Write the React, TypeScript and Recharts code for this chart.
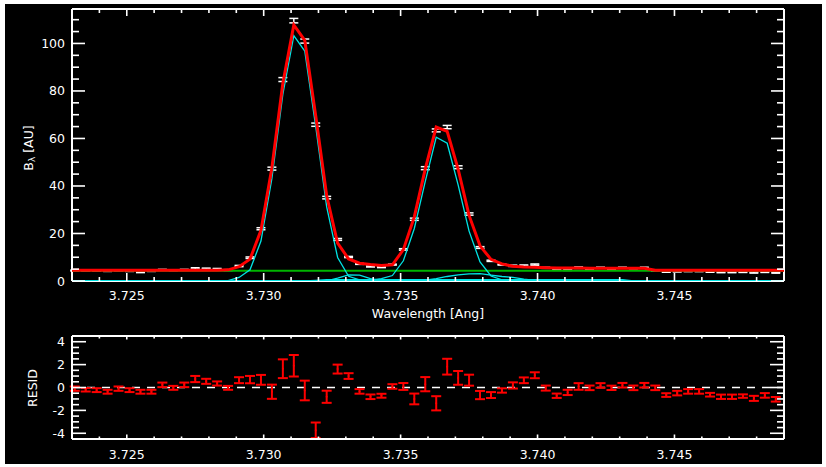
import React from 'react';
import { ComposedChart, Line, Scatter, ErrorBar, XAxis, YAxis, ReferenceLine } from 'recharts';

const FONT = '"DejaVu Sans", "Liberation Sans", sans-serif';
const FS = 12.5;
const WHITE = '#ffffff';
const RED = '#ff0000';
const CYAN = '#00e4e4';
const GREEN = '#00b400';

// ---------- axes ----------
const X_DOMAIN: [number, number] = [3.723, 3.749];
const xTickValues = [3.723, 3.724, 3.725, 3.726, 3.727, 3.728, 3.729, 3.73, 3.731, 3.732, 3.733, 3.734, 3.735, 3.736, 3.737, 3.738, 3.739, 3.74, 3.741, 3.742, 3.743, 3.744, 3.745, 3.746, 3.747, 3.748, 3.749];
const xMajorTicks = [3.725, 3.73, 3.735, 3.74, 3.745];
const FLUX_DOMAIN: [number, number] = [0, 114.5];
const fluxTickValues = [0, 5, 10, 15, 20, 25, 30, 35, 40, 45, 50, 55, 60, 65, 70, 75, 80, 85, 90, 95, 100, 105, 110];
const fluxMajorTicks = [0, 20, 40, 60, 80, 100];
const RESID_DOMAIN: [number, number] = [-4.5, 4.5];
const residTickValues = [-4.5, -4, -3.5, -3, -2.5, -2, -1.5, -1, -0.5, 0, 0.5, 1, 1.5, 2, 2.5, 3, 3.5, 4, 4.5];
const residMajorTicks = [-4, -2, 0, 2, 4];

// ---------- observed spectrum ----------
const wavelength = [
  3.7231, 3.7235, 3.7239, 3.7243, 3.7247, 3.7251, 3.7255, 3.7259, 3.7263, 3.7267,
  3.7271, 3.7275, 3.7279, 3.7283, 3.7287, 3.7291, 3.7295, 3.7299, 3.7303, 3.7307,
  3.7311, 3.7315, 3.7319, 3.7323, 3.7327, 3.7331, 3.7335, 3.7339, 3.7343, 3.7347,
  3.7351, 3.7355, 3.7359, 3.7363, 3.7367, 3.7371, 3.7375, 3.7379, 3.7383, 3.7387,
  3.7391, 3.7395, 3.7399, 3.7403, 3.7407, 3.7411, 3.7415, 3.7419, 3.7423, 3.7427,
  3.7431, 3.7435, 3.7439, 3.7443, 3.7447, 3.7451, 3.7455, 3.7459, 3.7463, 3.7467,
  3.7471, 3.7475, 3.7479, 3.7483, 3.7487,
];
const flux = [
  4.4, 4.3, 4.3, 4.2, 4.4, 4.2, 3.7, 4.2, 4.7, 4.5,
  4.7, 5.3, 5.2, 5.1, 4.6, 6.3, 9.8, 22.0, 47.3, 84.8,
  109.6, 101.0, 65.8, 35.1, 17.5, 10.1, 7.2, 6.1, 5.8, 6.9,
  13.3, 26.0, 47.5, 63.4, 64.8, 47.9, 28.2, 14.1, 8.5, 6.9,
  6.4, 6.5, 6.9, 5.55, 4.7, 4.7, 5.6, 4.7, 5.6, 4.7,
  5.6, 5.35, 5.6, 4.45, 3.85, 4.0, 4.15, 4.15, 3.85, 3.7,
  3.7, 3.75, 3.55, 3.8, 3.5,
];
const fluxErr = [
  0.19, 0.15, 0.17, 0.17, 0.19, 0.17, 0.17, 0.17, 0.2, 0.17,
  0.2, 0.27, 0.22, 0.18, 0.17, 0.26, 0.32, 0.43, 0.62, 0.82,
  0.94, 0.86, 0.68, 0.53, 0.39, 0.25, 0.2, 0.2, 0.17, 0.2,
  0.3, 0.47, 0.62, 0.62, 0.69, 0.6, 0.48, 0.36, 0.26, 0.19,
  0.27, 0.25, 0.26, 0.22, 0.19, 0.23, 0.29, 0.2, 0.2, 0.19,
  0.2, 0.2, 0.2, 0.2, 0.16, 0.2, 0.2, 0.2, 0.16, 0.19,
  0.19, 0.15, 0.22, 0.2, 0.2,
];
const residual = [
  -0.1, -0.2, -0.23, -0.37, -0.1, -0.23, -0.37, -0.37, 0.23, -0.03,
  0.23, 0.74, 0.54, 0.35, -0.03, 0.64, 0.69, 0.67, -0.37, 1.64,
  1.9, -0.26, -3.74, -0.81, 1.61, 1.0, -0.34, -0.81, -0.72, 0.09,
  0.09, -1.0, 0.29, -1.38, 1.82, 0.84, 0.64, -0.66, -0.66, -0.26,
  0.18, 0.63, 1.07, -0.05, -0.72, -0.43, 0.09, -0.03, 0.18, -0.03,
  0.2, -0.03, 0.2, -0.03, -0.66, -0.49, -0.34, -0.34, -0.63, -0.81,
  -0.81, -0.75, -0.95, -0.69, -1.03,
];

// ---------- model (evaluated on the data grid, plus the plot edges) ----------
const modelEdges = [3.723, 3.749];
const fitTotal = [
  4.5, 4.5, 4.5, 4.5, 4.5, 4.5, 4.5, 4.5, 4.5, 4.5,
  4.5, 4.5, 4.5, 4.5, 4.7, 6.0, 9.2, 21.3, 47.7, 83.2,
  107.8, 101.3, 69.5, 35.9, 15.9, 9.3, 7.5, 6.9, 6.5, 6.8,
  13.2, 27.0, 47.2, 64.8, 63.0, 47.1, 27.6, 14.8, 9.1, 7.2,
  6.2, 5.9, 5.8, 5.6, 5.5, 5.5, 5.5, 5.4, 5.4, 5.4,
  5.4, 5.4, 5.4, 4.5, 4.5, 4.5, 4.5, 4.5, 4.5, 4.5,
  4.5, 4.5, 4.5, 4.5, 4.5,
];
const fitEdgeValues = [4.5, 4.5];
const line1Comp = [
  0, 0, 0, 0, 0, 0, 0, 0, 0, 0,
  0, 0, 0, 0, 0.2, 1.5, 4.7, 16.8, 43.2, 78.7,
  103.3, 96.8, 65.0, 31.2, 9.9, 2.0, 0.5, 0.1, 0, 0,
  0, 0, 0, 0, 0, 0, 0, 0, 0, 0,
  0, 0, 0, 0, 0, 0, 0, 0, 0, 0,
  0, 0, 0, 0, 0, 0, 0, 0, 0, 0,
  0, 0, 0, 0, 0,
];
const line2Comp = [
  0, 0, 0, 0, 0, 0, 0, 0, 0, 0,
  0, 0, 0, 0, 0, 0, 0, 0, 0, 0,
  0, 0, 0, 0, 0, 0, 0.1, 0.4, 1.0, 2.3,
  8.5, 22.1, 41.9, 60.5, 58.0, 40.5, 21.0, 8.0, 2.1, 0.5,
  0.1, 0, 0, 0, 0, 0, 0, 0, 0, 0,
  0, 0, 0, 0, 0, 0, 0, 0, 0, 0,
  0, 0, 0, 0, 0,
];
const wing1Comp = [
  0, 0, 0, 0, 0, 0, 0, 0, 0, 0,
  0, 0, 0, 0, 0, 0, 0, 0, 0, 0,
  0, 0, 0, 0.1, 1.2, 2.6, 2.5, 1.0, 0.1, 0,
  0, 0, 0, 0, 0, 0, 0, 0, 0, 0,
  0, 0, 0, 0, 0, 0, 0, 0, 0, 0,
  0, 0, 0, 0, 0, 0, 0, 0, 0, 0,
  0, 0, 0, 0, 0,
];
const wing2Comp = [
  0, 0, 0, 0, 0, 0, 0, 0, 0, 0,
  0, 0, 0, 0, 0, 0, 0, 0, 0, 0,
  0, 0, 0, 0, 0, 0, 0, 0, 0, 0,
  0, 0.1, 0.4, 1.0, 1.9, 2.6, 3.0, 3.1, 2.5, 1.9,
  1.5, 0.8, 0.3, 0.1, 0, 0, 0, 0, 0, 0,
  0, 0, 0, 0, 0, 0, 0, 0, 0, 0,
  0, 0, 0, 0, 0,
];
const broadComp = [
  0, 0, 0, 0, 0, 0, 0, 0, 0, 0,
  0, 0, 0, 0, 0, 0, 0, 0, 0, 0,
  0, 0, 0.3, 0.6, 0.6, 0.6, 0.6, 0.6, 0.6, 0.6,
  0.6, 0.6, 0.6, 0.6, 0.6, 0.6, 0.6, 0.6, 0.6, 0.6,
  0.6, 0.6, 0.6, 0.6, 0.6, 0.6, 0.6, 0.6, 0.6, 0.6,
  0.6, 0, 0, 0, 0, 0, 0, 0, 0, 0,
  0, 0, 0, 0, 0,
];
const baselineWl = [3.723, 3.749];
const baselineValue = [4.3, 4.3];

// ---------- data tables for the library ----------
const obsData = wavelength.map((wl, i) => ({ wl, flux: flux[i], err: fluxErr[i], resid: residual[i] }));
const modelWl = [modelEdges[0], ...wavelength, modelEdges[1]];
const withEdges = (arr: number[], edge: number[]) => [edge[0], ...arr, edge[1]];
const fitCol = withEdges(fitTotal, fitEdgeValues);
const c1 = withEdges(line1Comp, [0, 0]);
const c2 = withEdges(line2Comp, [0, 0]);
const c3 = withEdges(wing1Comp, [0, 0]);
const c4 = withEdges(wing2Comp, [0, 0]);
const c5 = withEdges(broadComp, [0, 0]);
const modelData = modelWl.map((wl, i) => ({ wl, fit: fitCol[i], c1: c1[i], c2: c2[i], c3: c3[i], c4: c4[i], c5: c5[i] }));
const baselineData = baselineWl.map((wl, i) => ({ wl, base: baselineValue[i] }));

// ---------- tick renderer (ticks point inward on all sides) ----------
type Side = 'left' | 'right' | 'top' | 'bottom';
interface TickOpts {
  side: Side;
  majors: number[];
  majorLen: number;
  minorLen: number;
  labels: boolean;
  gap: number;
  fmt: (v: number) => string;
}
function makeTick(o: TickOpts) {
  return (props: any) => {
    const { x, y, payload } = props;
    const v = Number(payload && payload.value);
    const major = o.majors.some((m) => Math.abs(m - v) < 1e-7);
    const len = major ? o.majorLen : o.minorLen;
    let x2 = x;
    let y2 = y;
    if (o.side === 'bottom') y2 = y - len;
    else if (o.side === 'top') y2 = y + len;
    else if (o.side === 'left') x2 = x + len;
    else x2 = x - len;
    let label: React.ReactNode = null;
    if (o.labels && major) {
      if (o.side === 'bottom') {
        label = (
          <text x={x} y={y + o.gap} textAnchor="middle" dominantBaseline="central" fill={WHITE} fontFamily={FONT} fontSize={FS}>
            {o.fmt(v)}
          </text>
        );
      } else if (o.side === 'left') {
        label = (
          <text x={x - o.gap} y={y} textAnchor="end" dominantBaseline="central" fill={WHITE} fontFamily={FONT} fontSize={FS}>
            {o.fmt(v)}
          </text>
        );
      }
    }
    return (
      <g>
        <line x1={x} y1={y} x2={x2} y2={y2} stroke={WHITE} strokeWidth={1.6} />
        {label}
      </g>
    );
  };
}

const fmtX = (v: number) => v.toFixed(3);
const fmtInt = (v: number) => String(Math.round(v));

const axisLine = { stroke: WHITE, strokeWidth: 2 };

const NoMark = () => <g />;
const ResidDot = (props: any) => <circle cx={props.cx} cy={props.cy} r={1} fill={RED} />;

export default function App() {
  return (
    <div style={{ position: 'absolute', left: 0, top: 0, width: 826, height: 467, background: '#ffffff', overflow: 'hidden' }}>
      <div style={{ position: 'absolute', left: 5, top: 4, width: 817, height: 460, background: '#000000' }} />
      {/* ---------- top panel ---------- */}
      <div style={{ position: 'absolute', left: 0, top: 0 }}>
        <ComposedChart width={826} height={320} margin={{ top: 8, right: 0, bottom: 0, left: 0 }}>
          <XAxis
            dataKey="wl" type="number" domain={X_DOMAIN} allowDataOverflow ticks={xTickValues} interval={0}
            height={39} tickSize={0} tickMargin={0} tickLine={false} axisLine={axisLine}
            tick={makeTick({ side: 'bottom', majors: xMajorTicks, majorLen: 8, minorLen: 4, labels: true, gap: 14, fmt: fmtX })}
          />
          <XAxis
            xAxisId="top" orientation="top" dataKey="wl" type="number" domain={X_DOMAIN} allowDataOverflow ticks={xTickValues} interval={0}
            height={1} tickSize={0} tickMargin={0} tickLine={false} axisLine={axisLine}
            tick={makeTick({ side: 'top', majors: xMajorTicks, majorLen: 7, minorLen: 4, labels: false, gap: 0, fmt: fmtX })}
          />
          <YAxis
            type="number" domain={FLUX_DOMAIN} allowDataOverflow ticks={fluxTickValues} interval={0}
            width={72} tickSize={0} tickMargin={0} tickLine={false} axisLine={axisLine}
            tick={makeTick({ side: 'left', majors: fluxMajorTicks, majorLen: 13, minorLen: 7, labels: true, gap: 7, fmt: fmtInt })}
          />
          <YAxis
            yAxisId="right" orientation="right" type="number" domain={FLUX_DOMAIN} allowDataOverflow ticks={fluxTickValues} interval={0}
            width={42} tickSize={0} tickMargin={0} tickLine={false} axisLine={axisLine}
            tick={makeTick({ side: 'right', majors: fluxMajorTicks, majorLen: 13, minorLen: 7, labels: false, gap: 0, fmt: fmtInt })}
          />
          <Scatter data={obsData} dataKey="flux" shape={NoMark} isAnimationActive={false} zIndex={505}>
            <ErrorBar dataKey="err" direction="y" width={4.5} stroke={WHITE} strokeWidth={1.5} isAnimationActive={false} />
          </Scatter>
          <Line data={baselineData} dataKey="base" type="linear" stroke={GREEN} strokeWidth={2} dot={false} activeDot={false} isAnimationActive={false} zIndex={510} />
          <Line data={modelData} dataKey="c5" type="linear" stroke={CYAN} strokeWidth={1.3} dot={false} activeDot={false} isAnimationActive={false} zIndex={520} />
          <Line data={modelData} dataKey="c3" type="linear" stroke={CYAN} strokeWidth={1.3} dot={false} activeDot={false} isAnimationActive={false} zIndex={520} />
          <Line data={modelData} dataKey="c4" type="linear" stroke={CYAN} strokeWidth={1.3} dot={false} activeDot={false} isAnimationActive={false} zIndex={520} />
          <Line data={modelData} dataKey="c1" type="linear" stroke={CYAN} strokeWidth={1.3} dot={false} activeDot={false} isAnimationActive={false} zIndex={520} />
          <Line data={modelData} dataKey="c2" type="linear" stroke={CYAN} strokeWidth={1.3} dot={false} activeDot={false} isAnimationActive={false} zIndex={520} />
          <Line data={modelData} dataKey="fit" type="linear" stroke={RED} strokeWidth={3} dot={false} activeDot={false} isAnimationActive={false} zIndex={530} />
        </ComposedChart>
      </div>
      {/* ---------- residual panel ---------- */}
      <div style={{ position: 'absolute', left: 0, top: 320 }}>
        <ComposedChart width={826} height={147} margin={{ top: 15, right: 0, bottom: 0, left: 0 }}>
          <XAxis
            dataKey="wl" type="number" domain={X_DOMAIN} allowDataOverflow ticks={xTickValues} interval={0}
            height={28} tickSize={0} tickMargin={0} tickLine={false} axisLine={axisLine}
            tick={makeTick({ side: 'bottom', majors: xMajorTicks, majorLen: 4.5, minorLen: 2.5, labels: true, gap: 15, fmt: fmtX })}
          />
          <XAxis
            xAxisId="top" orientation="top" dataKey="wl" type="number" domain={X_DOMAIN} allowDataOverflow ticks={xTickValues} interval={0}
            height={1} tickSize={0} tickMargin={0} tickLine={false} axisLine={axisLine}
            tick={makeTick({ side: 'top', majors: xMajorTicks, majorLen: 3.5, minorLen: 2.5, labels: false, gap: 0, fmt: fmtX })}
          />
          <YAxis
            type="number" domain={RESID_DOMAIN} allowDataOverflow ticks={residTickValues} interval={0}
            width={72} tickSize={0} tickMargin={0} tickLine={false} axisLine={axisLine}
            tick={makeTick({ side: 'left', majors: residMajorTicks, majorLen: 14, minorLen: 7, labels: true, gap: 7, fmt: fmtInt })}
          />
          <YAxis
            yAxisId="right" orientation="right" type="number" domain={RESID_DOMAIN} allowDataOverflow ticks={residTickValues} interval={0}
            width={42} tickSize={0} tickMargin={0} tickLine={false} axisLine={axisLine}
            tick={makeTick({ side: 'right', majors: residMajorTicks, majorLen: 14, minorLen: 7, labels: false, gap: 0, fmt: fmtInt })}
          />
          <ReferenceLine y={0} stroke={WHITE} strokeWidth={1.5} strokeDasharray="8 7" />
          <Scatter data={obsData} dataKey="resid" shape={ResidDot} isAnimationActive={false} zIndex={600}>
            <ErrorBar dataKey="err" direction="y" width={5} stroke={RED} strokeWidth={2} isAnimationActive={false} />
          </Scatter>
        </ComposedChart>
      </div>
      {/* ---------- axis titles ---------- */}
      <svg width={826} height={467} style={{ position: 'absolute', left: 0, top: 0, pointerEvents: 'none' }}>
        <text x={428} y={313} textAnchor="middle" dominantBaseline="central" fill={WHITE} fontFamily={FONT} fontSize={FS}>
          Wavelength [Ang]
        </text>
        <text transform="translate(28,148) rotate(-90)" textAnchor="middle" dominantBaseline="central" fill={WHITE} fontFamily={FONT} fontSize={FS}>
          B<tspan fontSize={9} dy={4}>λ</tspan><tspan dy={-4}> [AU]</tspan>
        </text>
        <text transform="translate(32,388) rotate(-90)" textAnchor="middle" dominantBaseline="central" fill={WHITE} fontFamily={FONT} fontSize={FS}>
          RESID
        </text>
      </svg>
    </div>
  );
}
